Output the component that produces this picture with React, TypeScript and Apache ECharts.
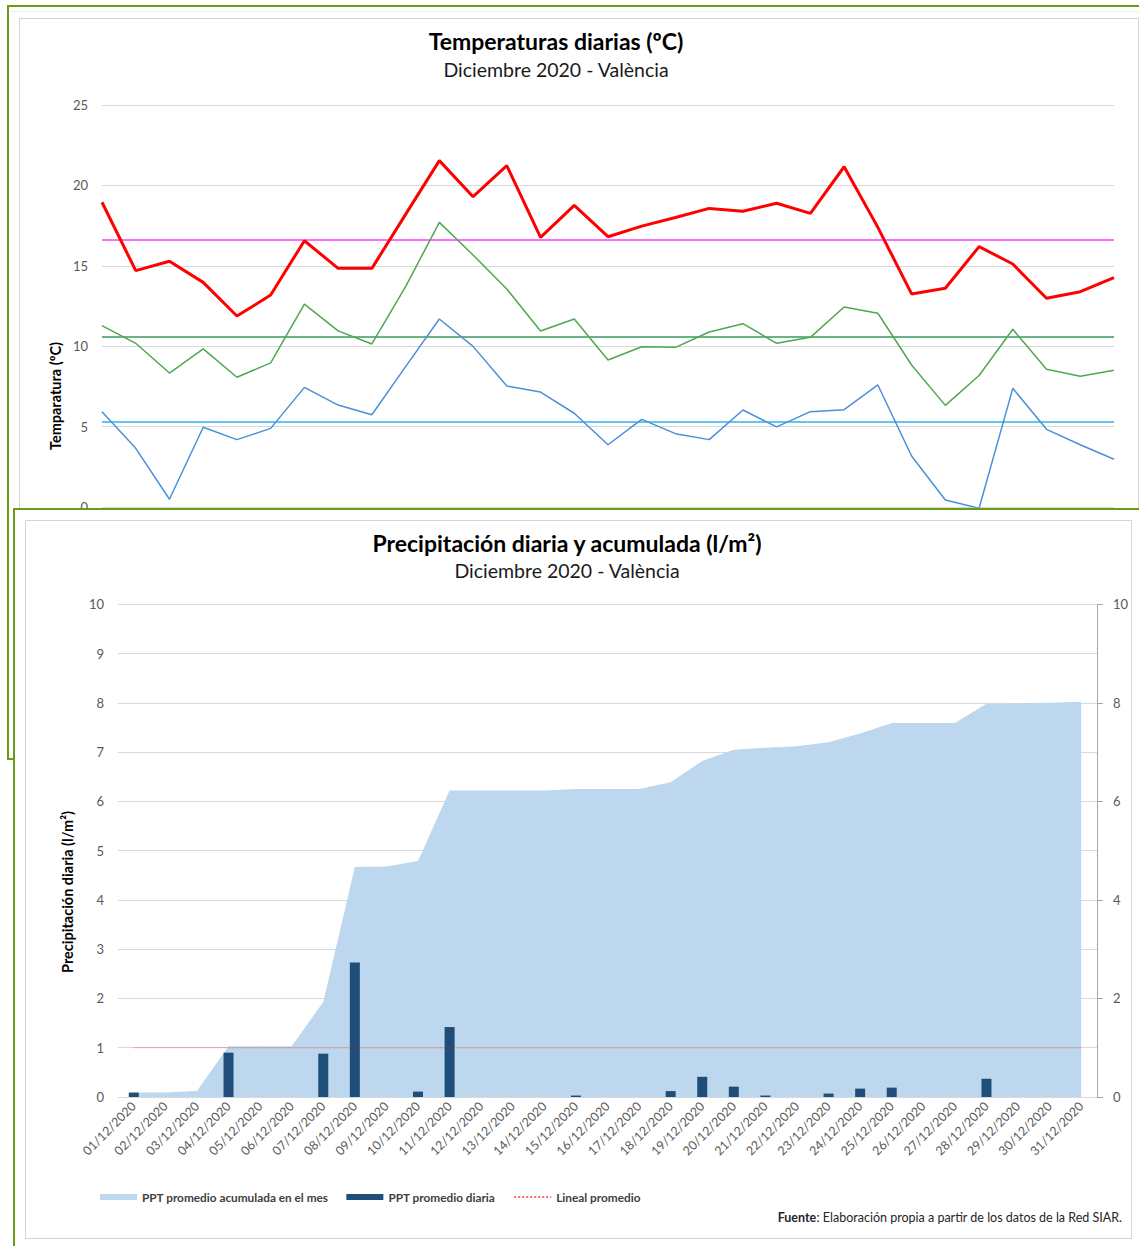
import React, { useEffect, useRef } from "react";
import * as echarts from "echarts";

const FONT = "Lato, 'Open Sans', sans-serif";

const days = [
  "01/12/2020", "02/12/2020", "03/12/2020", "04/12/2020", "05/12/2020", "06/12/2020",
  "07/12/2020", "08/12/2020", "09/12/2020", "10/12/2020", "11/12/2020", "12/12/2020",
  "13/12/2020", "14/12/2020", "15/12/2020", "16/12/2020", "17/12/2020", "18/12/2020",
  "19/12/2020", "20/12/2020", "21/12/2020", "22/12/2020", "23/12/2020", "24/12/2020",
  "25/12/2020", "26/12/2020", "27/12/2020", "28/12/2020", "29/12/2020", "30/12/2020",
  "31/12/2020",
];

// Temperatures (ºC)
const tMax = [18.95, 14.7, 15.28, 13.97, 11.88, 13.18, 16.56, 14.84, 14.84, 18.2, 21.54, 19.3, 21.23, 16.77, 18.76, 16.81, 17.47, 18.0, 18.57, 18.39, 18.89, 18.26, 21.16, 17.39, 13.25, 13.6, 16.19, 15.11, 12.98, 13.39, 14.26];
const tMed = [11.28, 10.18, 8.33, 9.83, 8.07, 8.96, 12.62, 10.95, 10.14, 13.7, 17.7, 15.67, 13.56, 10.95, 11.69, 9.14, 9.97, 9.93, 10.88, 11.4, 10.18, 10.55, 12.44, 12.05, 8.83, 6.32, 8.18, 11.05, 8.56, 8.13, 8.5];
const tMin = [5.93, 3.65, 0.48, 4.96, 4.19, 4.89, 7.44, 6.34, 5.74, 8.73, 11.69, 9.99, 7.52, 7.15, 5.83, 3.87, 5.45, 4.56, 4.19, 6.03, 4.98, 5.93, 6.05, 7.59, 3.17, 0.44, -0.08, 7.38, 4.83, 3.87, 2.97];
const meanMax = 16.6;
const meanMed = 10.6;
const meanMin = 5.3;

// Precipitation (l/m2)
const pptDaily = [0.09, 0, 0, 0.9, 0, 0, 0.88, 2.73, 0, 0.11, 1.42, 0, 0, 0, 0.03, 0, 0, 0.12, 0.41, 0.21, 0.03, 0, 0.07, 0.17, 0.19, 0, 0, 0.37, 0, 0, 0];
const pptCum = [0.09, 0.09, 0.12, 1.03, 1.03, 1.03, 1.93, 4.67, 4.68, 4.79, 6.22, 6.22, 6.22, 6.22, 6.25, 6.25, 6.25, 6.39, 6.82, 7.05, 7.09, 7.12, 7.2, 7.38, 7.59, 7.59, 7.59, 7.98, 7.99, 8.0, 8.02];
const linealPromedio = [1, 1, 1, 1, 1, 1, 1, 1, 1, 1, 1, 1, 1, 1, 1, 1, 1, 1, 1, 1, 1, 1, 1, 1, 1, 1, 1, 1, 1, 1, 1];

const GRID_GRAY = "#D9D9D9";
const LABEL_GRAY = "#595959";

function txt(text: string, x: number, y: number, font: string, extra: any = {}) {
  return {
    type: "text",
    x,
    y,
    silent: true,
    ...extra,
    style: {
      text,
      font,
      fill: extra.fill || "#000000",
      textAlign: extra.textAlign || "center",
      textVerticalAlign: "middle",
      ...(extra.style || {}),
    },
  };
}

const topOption: any = {
  animation: false,
  backgroundColor: "transparent",
  textStyle: { fontFamily: FONT },
  grid: { left: 102, right: 25, top: 105, bottom: 253 },
  xAxis: {
    type: "category",
    data: days,
    boundaryGap: false,
    axisLine: { show: false },
    axisTick: { show: false },
    axisLabel: { show: false },
    splitLine: { show: false },
  },
  yAxis: {
    type: "value",
    min: 0,
    max: 25,
    interval: 5,
    axisLine: { show: false },
    axisTick: { show: false },
    axisLabel: { fontSize: 13, color: LABEL_GRAY, margin: 14, fontFamily: FONT },
    splitLine: { lineStyle: { color: GRID_GRAY, width: 1 } },
  },
  series: [
    {
      name: "Tmin",
      type: "line",
      data: tMin,
      symbol: "none",
      z: 3,
      lineStyle: { color: "#4A90D9", width: 1.5 },
      markLine: {
        z: 1,
        silent: true,
        symbol: ["none", "none"],
        label: { show: false },
        lineStyle: { color: "#2CB5E8", width: 1.5, type: "solid" },
        data: [{ yAxis: meanMin }],
      },
    },
    {
      name: "Tmed",
      type: "line",
      data: tMed,
      symbol: "none",
      z: 4,
      lineStyle: { color: "#4FA84F", width: 1.5 },
      markLine: {
        z: 1,
        silent: true,
        symbol: ["none", "none"],
        label: { show: false },
        lineStyle: { color: "#3A9A5E", width: 1.5, type: "solid" },
        data: [{ yAxis: meanMed }],
      },
    },
    {
      name: "Tmax",
      type: "line",
      data: tMax,
      symbol: "none",
      z: 5,
      lineStyle: { color: "#FF0000", width: 3 },
      markLine: {
        z: 1,
        silent: true,
        symbol: ["none", "none"],
        label: { show: false },
        lineStyle: { color: "#FF3CFF", width: 1.5, type: "solid" },
        data: [{ yAxis: meanMax }],
      },
    },
  ],
  graphic: [
    txt("Temperaturas diarias (ºC)", 556, 41, `bold 23px ${FONT}`),
    txt("Diciembre 2020 - València", 556, 69, `19.5px ${FONT}`, { fill: "#1A1A1A" }),
    txt("Temparatura (ºC)", 55, 396, `bold 14.5px ${FONT}`, { rotation: Math.PI / 2 }),
  ],
};

const botOption: any = {
  animation: false,
  backgroundColor: "transparent",
  textStyle: { fontFamily: FONT },
  grid: { left: 118, right: 42, top: 104.3, bottom: 149 },
  xAxis: {
    type: "category",
    data: days,
    boundaryGap: true,
    axisLine: { show: true, lineStyle: { color: GRID_GRAY } },
    axisTick: { show: false },
    axisLabel: { rotate: 45, interval: 0, fontSize: 12.5, color: LABEL_GRAY, margin: 7, fontFamily: FONT },
    splitLine: { show: false },
  },
  yAxis: [
    {
      type: "value",
      min: 0,
      max: 10,
      interval: 1,
      axisLine: { show: false },
      axisTick: { show: false },
      axisLabel: { fontSize: 13, color: LABEL_GRAY, margin: 14, fontFamily: FONT },
      splitLine: { lineStyle: { color: GRID_GRAY, width: 1 } },
    },
    {
      type: "value",
      min: 0,
      max: 10,
      interval: 2,
      position: "right",
      axisLine: { show: true, lineStyle: { color: "#A6A6A6" } },
      axisTick: { show: true, length: 6, lineStyle: { color: "#A6A6A6" } },
      axisLabel: { fontSize: 13, color: LABEL_GRAY, margin: 16, fontFamily: FONT },
      splitLine: { show: false },
    },
  ],
  legend: {
    left: 100,
    top: 691,
    padding: 0,
    itemWidth: 37,
    itemHeight: 6,
    itemGap: 18,
    textStyle: { fontSize: 11.8, fontWeight: "bold", color: "#404040", fontFamily: FONT },
    data: [
      { name: "PPT promedio acumulada en el mes", icon: "rect", itemStyle: { color: "#BDD7EE" } },
      { name: "PPT promedio diaria", icon: "rect", itemStyle: { color: "#1F4E79" } },
      { name: "Lineal promedio", itemStyle: { opacity: 0 } },
    ],
  },
  series: [
    {
      name: "PPT promedio acumulada en el mes",
      type: "line",
      yAxisIndex: 1,
      data: pptCum,
      symbol: "none",
      z: 1,
      itemStyle: { color: "#BDD7EE" },
      lineStyle: { width: 0, color: "#BDD7EE" },
      areaStyle: { color: "#BDD7EE", opacity: 1 },
    },
    {
      name: "PPT promedio diaria",
      type: "bar",
      data: pptDaily,
      barWidth: 10,
      z: 2,
      itemStyle: { color: "#1F4E79" },
    },
    {
      name: "Lineal promedio",
      type: "line",
      data: linealPromedio,
      symbol: "none",
      z: 3,
      itemStyle: { color: "#FF0000" },
      lineStyle: { color: "#FF0000", width: 1, type: "dotted", opacity: 0.6 },
    },
  ],
  graphic: [
    txt("Precipitación diaria y acumulada (l/m²)", 567, 43, `bold 23px ${FONT}`),
    txt("Diciembre 2020 - València", 567, 70, `19.5px ${FONT}`, { fill: "#1A1A1A" }),
    txt("Precipitación diaria (l/m²)", 67, 892 - 500, `bold 14.5px ${FONT}`, { rotation: Math.PI / 2 }),
    {
      type: "text",
      x: 1122,
      y: 717,
      silent: true,
      style: {
        text: "{b|Fuente}: Elaboración propia a partir de los datos de la Red SIAR.",
        font: `12.5px ${FONT}`,
        fill: "#262626",
        textAlign: "right",
        textVerticalAlign: "middle",
        rich: {
          b: { fontWeight: "bold", fontSize: 12.5, fontFamily: FONT, fill: "#262626" },
        },
      },
    },
  ],
};

export default function App() {
  const topRef = useRef<HTMLDivElement>(null);
  const botRef = useRef<HTMLDivElement>(null);

  useEffect(() => {
    const c1 = echarts.init(topRef.current as HTMLDivElement, undefined, { renderer: "svg" });
    const c2 = echarts.init(botRef.current as HTMLDivElement, undefined, { renderer: "svg" });
    c1.setOption(topOption);
    c2.setOption(botOption);
    return () => {
      c1.dispose();
      c2.dispose();
    };
  }, []);

  const GREEN = "#6A9C16";
  return (
    <div style={{ position: "absolute", left: 0, top: 0, width: 1139, height: 1246, overflow: "hidden", background: "#ffffff" }}>
      <div ref={topRef} style={{ position: "absolute", left: 0, top: 0, width: 1139, height: 760 }} />
      <div style={{ position: "absolute", left: 7, top: 5, width: 1150, height: 755, border: `2.5px solid ${GREEN}`, boxSizing: "border-box", pointerEvents: "none" }} />
      <div style={{ position: "absolute", left: 10, top: 11, width: 1140, height: 1, background: "#F0F0F0", pointerEvents: "none" }} />
      <div style={{ position: "absolute", left: 19, top: 18, width: 1120, height: 700, border: "1px solid #D4D4D4", boxSizing: "border-box", pointerEvents: "none" }} />
      <div style={{ position: "absolute", left: 13, top: 508, width: 1150, height: 760, border: `2.5px solid ${GREEN}`, boxSizing: "border-box", background: "#ffffff" }} />
      <div style={{ position: "absolute", left: 25, top: 520, width: 1107, height: 719, border: "1px solid #D4D4D4", boxSizing: "border-box" }} />
      <div ref={botRef} style={{ position: "absolute", left: 0, top: 500, width: 1139, height: 746 }} />
    </div>
  );
}
